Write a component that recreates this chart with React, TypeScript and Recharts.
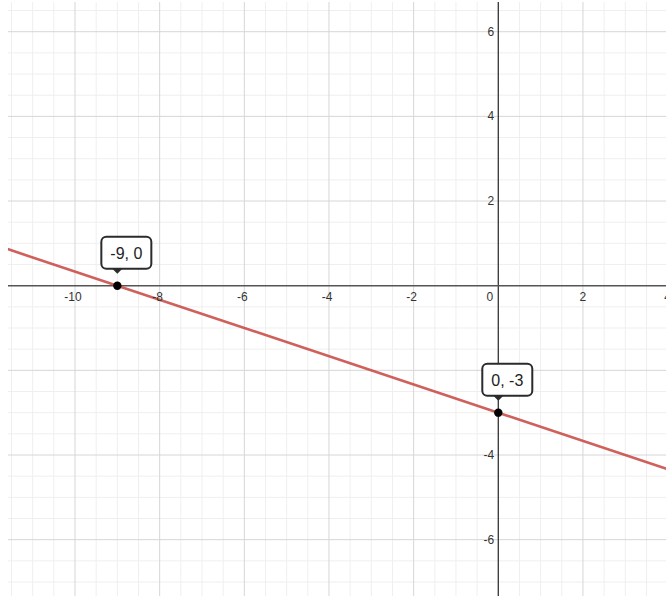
import { ComposedChart, Line, XAxis, YAxis, ReferenceLine, ReferenceDot } from 'recharts';

// line y = -x/3 - 3
const lineX = [-12, -9, 0, 4];
const lineY = [1, 0, -3, -4.333];

const pointX = [-9, 0];
const pointY = [0, -3];
const pointLabels = ['-9, 0', '0, -3'];

const xTickValues = [-10, -8, -6, -4, -2, 2, 4];
const yTickValues = [6, 4, 2, -2, -4, -6];

const X_DOMAIN: [number, number] = [-11.583, 3.962];
const Y_DOMAIN: [number, number] = [-7.331, 6.702];

const lineData = lineX.map((x, i) => ({ x, y: lineY[i] }));

function steps(from: number, to: number, step: number) {
  const out: number[] = [];
  for (let v = from; v <= to + 1e-9; v += step) out.push(Math.round(v * 10) / 10);
  return out;
}

const majorX = steps(-10, 2, 2).filter((v) => v !== 0);
const majorY = steps(-6, 6, 2).filter((v) => v !== 0);
const minorX = steps(-11.5, 3.5, 0.5).filter((v) => v % 2 !== 0);
const minorY = steps(-7, 6.5, 0.5).filter((v) => v % 2 !== 0);

const FONT = '"Liberation Sans", Arial, sans-serif';

function Callout({ cx, cy, text }: { cx: number; cy: number; text: string }) {
  return (
    <g>
      <rect x={cx - 16} y={cy - 49} width={50} height={32} rx={5} fill="#fff" stroke="#2b2b2b" strokeWidth={2} />
      <path d={`M${cx - 5},${cy - 17} L${cx + 5},${cy - 17} L${cx},${cy - 12} Z`} fill="#2b2b2b" />
      <text x={cx + 9} y={cy - 32} textAnchor="middle" dominantBaseline="central"
        fontFamily={FONT} fontSize={16} fill="#222">
        {text}
      </text>
      <circle cx={cx} cy={cy} r={4.2} fill="#000" />
    </g>
  );
}

export default function App() {
  return (
    <div style={{ position: 'absolute', left: 8, top: 2 }}>
      <ComposedChart width={658} height={594} data={lineData} margin={{ top: 0, right: 0, bottom: 0, left: 0 }}>
        <XAxis type="number" dataKey="x" domain={X_DOMAIN} allowDataOverflow hide />
        <YAxis type="number" dataKey="y" domain={Y_DOMAIN} allowDataOverflow hide />

        {minorX.map((v) => (
          <ReferenceLine key={'mx' + v} x={v} stroke="#efefef" strokeWidth={1} />
        ))}
        {minorY.map((v) => (
          <ReferenceLine key={'my' + v} y={v} stroke="#efefef" strokeWidth={1} />
        ))}
        {majorX.map((v) => (
          <ReferenceLine key={'Mx' + v} x={v} stroke="#d6d6d6" strokeWidth={1} />
        ))}
        {majorY.map((v) => (
          <ReferenceLine key={'My' + v} y={v} stroke="#d6d6d6" strokeWidth={1} />
        ))}

        <ReferenceLine x={0} stroke="#333" strokeWidth={1.3} />
        <ReferenceLine y={0} stroke="#555" strokeWidth={1.5} />

        {xTickValues.map((v) => (
          <ReferenceDot key={'xt' + v} x={v} y={0} r={0} ifOverflow="visible"
            shape={(p: any) => (
              <text x={p.cx + (v < 0 ? -2 : 0)} y={p.cy + 15} textAnchor="middle"
                fontFamily={FONT} fontSize={12} fill="#333">
                {v}
              </text>
            )} />
        ))}
        <ReferenceDot x={0} y={0} r={0} ifOverflow="visible"
          shape={(p: any) => (
            <text x={p.cx - 5} y={p.cy + 15} textAnchor="end" fontFamily={FONT} fontSize={12} fill="#333">
              0
            </text>
          )} />
        {yTickValues.map((v) => (
          <ReferenceDot key={'yt' + v} x={0} y={v} r={0} ifOverflow="visible"
            shape={(p: any) => (
              <text x={p.cx - 4} y={p.cy} textAnchor="end" dominantBaseline="central"
                fontFamily={FONT} fontSize={12} fill="#333">
                {v}
              </text>
            )} />
        ))}

        <Line type="linear" dataKey="y" stroke="#c74440" strokeOpacity={0.85} strokeWidth={2.6}
          dot={false} activeDot={false} isAnimationActive={false} />

        {pointX.map((x, i) => (
          <ReferenceDot key={'pt' + i} x={x} y={pointY[i]} r={4} ifOverflow="visible"
            shape={(p: any) => <Callout cx={p.cx} cy={p.cy} text={pointLabels[i]} />} />
        ))}
      </ComposedChart>
    </div>
  );
}
